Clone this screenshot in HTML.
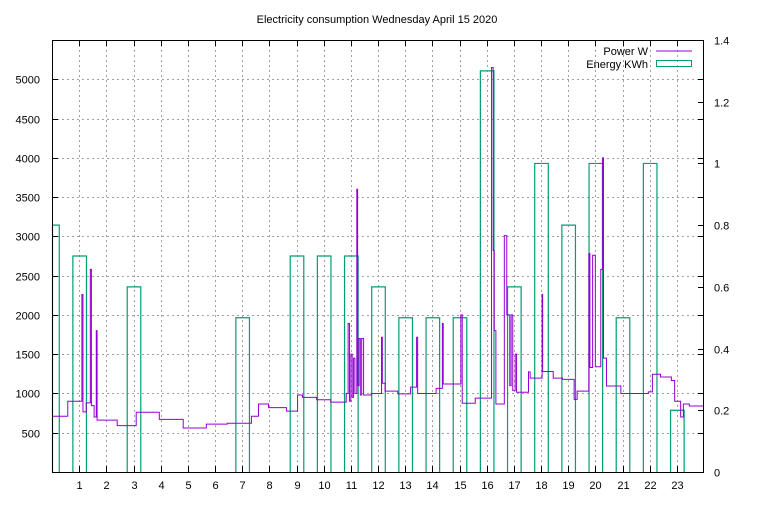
<!DOCTYPE html>
<html><head><meta charset="utf-8"><style>
body{margin:0;background:#fff}
svg text{font-family:"Liberation Sans",sans-serif;font-size:11px;fill:#000}
</style></head><body>
<svg id="chart" width="768" height="500" xmlns="http://www.w3.org/2000/svg">
<rect width="768" height="500" fill="#fff"/>
<text x="377" y="23" text-anchor="middle">Electricity consumption Wednesday April 15 2020</text>
<g id="grid"></g>
<g id="bars"></g>
<g id="line"></g>
<g id="axes"></g>
<g>
<text x="648" y="55" text-anchor="end">Power W</text>
<line x1="656" y1="51" x2="692" y2="51" stroke="#9400d3" stroke-width="1"/>
<text x="648" y="68" text-anchor="end">Energy KWh</text>
<rect x="656.5" y="60.5" width="35" height="6" fill="none" stroke="#009e73" stroke-width="1"/>
</g>
</svg>
<script>
const energyHours=[0,1,2,3,4,5,6,7,8,9,10,11,12,13,14,15,16,17,18,19,20,21,22,23];
const energyValues=[0.8,0.7,0,0.6,0,0,0,0.5,0,0.7,0.7,0.7,0.6,0.5,0.5,0.5,1.3,0.6,1.0,0.8,1.0,0.5,1.0,0.2];
const powerTimes=[0,0.58,1.1,1.14,1.26,1.41,1.45,1.55,1.63,1.66,2.4,3.1,3.95,4.83,5.68,6.45,7.34,7.6,7.97,8.63,9.04,9.22,9.74,10.26,10.83,10.9,10.95,11.0,11.05,11.1,11.15,11.22,11.25,11.3,11.35,11.4,11.47,11.75,12.13,12.16,12.26,12.73,13.2,13.42,13.46,14.14,14.37,14.4,15.05,15.1,15.58,16.18,16.24,16.28,16.34,16.65,16.74,16.85,16.9,16.96,17.05,17.1,17.54,17.6,18.04,18.06,18.45,18.79,19.22,19.33,19.76,19.8,19.9,20.0,20.2,20.26,20.3,20.41,20.94,21.95,22.1,22.4,22.8,22.92,23.14,23.24,23.46];
const powerValues=[710,900,2260,765,880,2580,845,700,1800,660,590,760,670,560,610,620,710,865,820,775,980,950,920,890,1000,1890,900,1500,950,1450,1000,3600,1100,1700,980,1700,980,1000,1715,1130,1030,995,1080,1715,1000,1065,1890,1120,2000,875,940,5150,2820,1800,865,3010,2000,1100,2000,1040,1500,1015,1275,1195,2260,1280,1195,1180,925,1030,2780,1330,2760,1340,2580,4000,1450,1095,1000,1020,1245,1210,1165,900,700,865,840];
const L=52,R=704,T=40,B=472;
const xs=h=>L+(h)*(R-L)/24;
const y1=v=>B-v*(B-T)/5500;
const y2=v=>B-v*(B-T)/1.4;
const NS="http://www.w3.org/2000/svg";
function mk(tag,attrs,parent){const e=document.createElementNS(NS,tag);for(const k in attrs)e.setAttribute(k,attrs[k]);document.getElementById(parent).appendChild(e);return e;}
const yTicks=[500,1000,1500,2000,2500,3000,3500,4000,4500,5000];
const y2Ticks=[0,0.2,0.4,0.6,0.8,1,1.2,1.4];
const xTicks=[1,2,3,4,5,6,7,8,9,10,11,12,13,14,15,16,17,18,19,20,21,22,23];
yTicks.forEach(v=>{const y=Math.round(y1(v))+0.5;
 const g=mk('line',{x1:L,x2:R,y1:y,y2:y,stroke:'#a0a0a0','stroke-dasharray':'2,3'},'grid');
 
 const t=mk('text',{x:L-12,y:y+4,'text-anchor':'end'},'axes');t.textContent=v;
 
 mk('line',{x1:L,x2:L+6,y1:y,y2:y,stroke:'#000'},'axes');mk('line',{x1:R-6,x2:R,y1:y,y2:y,stroke:'#000'},'axes');});
y2Ticks.forEach(v=>{const y=Math.round(y2(v))+0.5;
 const t=mk('text',{x:R+10,y:y+4},'axes');t.textContent=v;
 
 mk('line',{x1:R-6,x2:R,y1:y,y2:y,stroke:'#000'},'axes');});
xTicks.forEach(h=>{const x=Math.round(xs(h))+0.5;
 const g=mk('line',{x1:x,x2:x,y1:T,y2:B,stroke:'#a0a0a0','stroke-dasharray':'2,3'},'grid');
 
 const t=mk('text',{x:x,y:B+17,'text-anchor':'middle'},'axes');t.textContent=h;
 
 mk('line',{x1:x,x2:x,y1:B-6,y2:B,stroke:'#000'},'axes');mk('line',{x1:x,x2:x,y1:T,y2:T+6,stroke:'#000'},'axes');});
const fr=mk('rect',{x:L+0.5,y:T+0.5,width:R-L-1,height:B-T,fill:'none',stroke:'#000'},'axes');

energyHours.forEach((h,i)=>{const v=energyValues[i];if(v<=0)return;
 const x0=Math.max(L,xs(h-0.25)),x1=xs(h+0.25),y=y2(v);
 const r=mk('path',{d:`M${x0+0.5},${B}V${y}H${x1+0.5}V${B}`,fill:'none',stroke:'#009e73','stroke-width':1.2},'bars');
 });
let d='';
powerTimes.forEach((t,i)=>{const x=xs(t),y=y1(powerValues[i]);
 d+= i===0?`M${x},${y}`:`H${x}V${y}`;});
d+=`H${R}`;
const p=mk('path',{d:d,fill:'none',stroke:'#9400d3','stroke-width':1},'line');

</script>
</body></html>
